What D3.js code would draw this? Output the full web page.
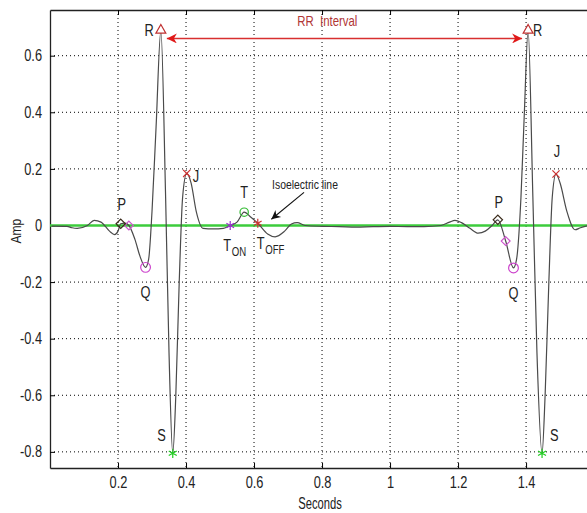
<!DOCTYPE html>
<html>
<head>
<meta charset="utf-8">
<script src="https://cdn.jsdelivr.net/npm/d3@7"></script>
<style>
  body { margin: 0; background: #fff; }
  text { font-family: "Liberation Sans", Arial, sans-serif; }
</style>
</head>
<body>
<div id="chart"></div>
<script>
// ECG trace: time (s) and amplitude
const timeSec = [0.005, 0.05, 0.065, 0.08, 0.11, 0.13, 0.15, 0.175, 0.19, 0.2, 0.208, 0.22, 0.232, 0.25, 0.265, 0.281,
  0.29, 0.3, 0.312, 0.326, 0.34, 0.35, 0.361, 0.37, 0.38, 0.39, 0.402, 0.415, 0.43, 0.45, 0.48, 0.51, 0.53,
  0.55, 0.571, 0.59, 0.611, 0.64, 0.662, 0.69, 0.71, 0.727, 0.75, 0.8, 0.85, 0.9, 0.95, 1.0, 1.05, 1.1, 1.15,
  1.175, 1.191, 1.21, 1.235, 1.259, 1.28, 1.3, 1.317, 1.34, 1.363, 1.372, 1.385, 1.395, 1.406, 1.42, 1.432,
  1.447, 1.456, 1.467, 1.477, 1.488, 1.5, 1.52, 1.544, 1.56, 1.585];
const amp = [-0.002, -0.003, -0.008, -0.01, 0.0, 0.018, 0.012, -0.02, -0.032, -0.02, 0.006, 0.008, 0.0, -0.05, -0.11, -0.148,
  -0.12, 0.05, 0.35, 0.69, 0.1, -0.45, -0.805, -0.6, -0.2, 0.1, 0.184, 0.15, 0.05, -0.01, -0.012, -0.01, 0.0,
  0.012, 0.047, 0.03, 0.008, -0.03, -0.04, -0.02, 0.005, 0.01, 0.0, -0.003, -0.004, -0.006, -0.004, -0.003, -0.004, -0.004, 0.0,
  0.012, 0.018, 0.01, -0.01, -0.027, -0.02, 0.0, 0.02, -0.055, -0.15, -0.12, 0.1, 0.4, 0.69, 0.1, -0.45,
  -0.805, -0.6, -0.2, 0.1, 0.182, 0.15, 0.05, -0.015, -0.008, 0.0];

const xTicks = [0.2, 0.4, 0.6, 0.8, 1, 1.2, 1.4];
const yTicks = [-0.8, -0.6, -0.4, -0.2, 0, 0.2, 0.4, 0.6];

// detected fiducial points
const pT = [0.208, 1.317], pA = [0.006, 0.02];
const pEndT = [0.232, 1.340], pEndA = [0.0, -0.055];
const qT = [0.281, 1.363], qA = [-0.148, -0.15];
const rT = [0.326, 1.406], rA = [0.69, 0.69];
const sT = [0.361, 1.447], sA = [-0.805, -0.805];
const jT = [0.402, 1.488], jA = [0.184, 0.182];
const tOnT = [0.53], tOnA = [0.0];
const tPeakT = [0.571], tPeakA = [0.047];
const tOffT = [0.611], tOffA = [0.008];

const width = 587, height = 513;
const mLeft = 50, mTop = 10, mBottom = 468, mRight = 590;

const x = d3.scaleLinear().domain([0, 1.588]).range([mLeft, mRight]);
const y = d3.scaleLinear().domain([-0.857, 0.7615]).range([mBottom, mTop]);
const fmt = d => d3.format("~g")(d).replace("\u2212", "-");

const svg = d3.select("#chart").append("svg")
  .attr("width", width).attr("height", height)
  .style("display", "block");

const defs = svg.append("defs");
defs.append("clipPath").attr("id", "clip")
  .append("rect").attr("x", mLeft).attr("y", mTop).attr("width", mRight - mLeft).attr("height", mBottom - mTop);

// dotted grid
svg.append("g").selectAll("line").data(xTicks).enter().append("line")
  .attr("x1", d => x(d)).attr("x2", d => x(d)).attr("y1", mTop).attr("y2", mBottom)
  .attr("stroke", "#000").attr("stroke-dasharray", "1,3");
svg.append("g").selectAll("line").data(yTicks).enter().append("line")
  .attr("x1", mLeft).attr("x2", mRight).attr("y1", d => y(d)).attr("y2", d => y(d))
  .attr("stroke", "#000").attr("stroke-dasharray", "1,3");

// axes, MATLAB style: ticks pointing inward
const xAxis = svg.append("g").attr("transform", "translate(0," + mBottom + ")")
  .call(d3.axisBottom(x).tickValues(xTicks).tickSizeInner(-5).tickSizeOuter(0).tickPadding(9).tickFormat(fmt));
const xTop = svg.append("g").attr("transform", "translate(0," + mTop + ")")
  .call(d3.axisTop(x).tickValues(xTicks).tickSizeInner(-5).tickSizeOuter(0).tickFormat(""));
const yAxis = svg.append("g").attr("transform", "translate(" + mLeft + ",0)")
  .call(d3.axisLeft(y).tickValues(yTicks).tickSizeInner(-5).tickSizeOuter(0).tickPadding(8).tickFormat(fmt));

[xAxis, xTop, yAxis].forEach(g => {
  g.select(".domain").attr("stroke", "#222").attr("stroke-width", 1.3);
  g.selectAll("text").attr("font-size", 16).attr("fill", "#222")
    .style("font-family", '"Liberation Sans", Arial, sans-serif');
});

svg.append("text").attr("x", x(0.794)).attr("y", 509).attr("text-anchor", "middle")
  .attr("font-size", 16).attr("fill", "#222").attr("data-squeeze", 0.7).text("Seconds");
svg.append("text").attr("transform", "translate(21," + y(-0.02) + ") rotate(-90)")
  .attr("text-anchor", "middle").attr("font-size", 15).attr("fill", "#222").text("Amp");

const plot = svg.append("g").attr("clip-path", "url(#clip)");

// isoelectric line
plot.append("line").attr("x1", mLeft).attr("x2", mRight).attr("y1", y(0)).attr("y2", y(0))
  .attr("stroke", "#3ccc3c").attr("stroke-width", 2.5);

// ECG trace
const trace = timeSec.map((t, i) => [t, amp[i]]);
plot.append("path").datum(trace)
  .attr("d", d3.line().x(d => x(d[0])).y(d => y(d[1])).curve(d3.curveMonotoneX))
  .attr("fill", "none").attr("stroke", "#4a4a4a").attr("stroke-width", 1.2);

function markers(ts, as, type, size, color, fill) {
  plot.append("g").selectAll("path").data(ts).enter().append("path")
    .attr("transform", (t, i) => "translate(" + x(t) + "," + y(as[i]) + ")")
    .attr("d", d3.symbol().type(type).size(size))
    .attr("fill", fill || "none").attr("stroke", color).attr("stroke-width", 1.2);
}
markers(pEndT, pEndA, d3.symbolDiamond2, 50, "#cc55cc");
markers(pT, pA, d3.symbolDiamond2, 55, "#3a2a1a");
markers(qT, qA, d3.symbolCircle, 75, "#cc44cc");
markers(rT, rA, d3.symbolTriangle2, 70, "#c03030", "#fff");
markers(sT, sA, d3.symbolAsterisk, 60, "#22cc22");
markers(jT, jA, d3.symbolTimes, 35, "#cc3030");
markers(tPeakT, tPeakA, d3.symbolCircle, 55, "#33bb33");
markers(tOnT, tOnA, d3.symbolAsterisk, 55, "#9933cc");
markers(tOffT, tOffA, d3.symbolAsterisk, 55, "#cc3333");

// point labels
const labels = svg.append("g").attr("fill", "#222");
function label(t, a, txt, dx, dy, anchor, size) {
  return labels.append("text").attr("x", x(t) + dx).attr("y", y(a) + dy)
    .attr("text-anchor", anchor).attr("font-size", size || 16).text(txt);
}
label(rT[0], rA[0], "R", -7, 6, "end");
label(rT[1], rA[1], "R", 5, 6, "start");
label(sT[0], sA[0], "S", -7, -12, "end");
label(sT[1], sA[1], "S", 8, -12, "start");
label(qT[0], qA[0], "Q", 0, 31, "middle");
label(qT[1], qA[1], "Q", 0, 31, "middle");
label(pT[0], pA[0], "P", 1, -14, "middle");
label(pT[1], pA[1], "P", 1, -12, "middle");
label(jT[0], jA[0], "J", 6, 9, "start");
label(jT[1], jA[1], "J", 1, -17, "middle");
label(tPeakT[0], tPeakA[0], "T", 0, -14, "middle");
label(tOnT[0], tOnA[0], "T", -7, 26, "start");
label(tOnT[0], tOnA[0], "ON", 1.5, 31, "start", 12);
label(tOffT[0], tOffA[0], "T", -1, 26, "start");
label(tOffT[0], tOffA[0], "OFF", 7.5, 31, "start", 12);

// isoelectric line annotation
svg.append("text").attr("x", x(0.653)).attr("y", y(0.128)).attr("font-size", 13).attr("fill", "#222")
  .text("Isoelectric line");
defs.append("marker").attr("id", "blackHead").attr("viewBox", "0 0 10 10").attr("refX", 10).attr("refY", 5)
  .attr("markerWidth", 11).attr("markerHeight", 9).attr("markerUnits", "userSpaceOnUse").attr("orient", "auto")
  .append("path").attr("d", "M0,0 L10,5 L0,10 L3,5 Z").attr("fill", "#111");
svg.append("line").attr("x1", x(0.747)).attr("y1", y(0.117)).attr("x2", x(0.651)).attr("y2", y(0.022))
  .attr("stroke", "#111").attr("stroke-width", 1.1).attr("marker-end", "url(#blackHead)");

// RR interval arrow
defs.append("marker").attr("id", "redHead").attr("viewBox", "0 0 10 10").attr("refX", 10).attr("refY", 5)
  .attr("markerWidth", 14).attr("markerHeight", 10).attr("markerUnits", "userSpaceOnUse").attr("orient", "auto-start-reverse")
  .append("path").attr("d", "M0,0 L10,5 L0,10 L3,5 Z").attr("fill", "#e01818");
svg.append("line").attr("x1", x(rT[0]) + 6).attr("y1", y(0.661)).attr("x2", x(rT[1]) - 6).attr("y2", y(0.661))
  .attr("stroke", "#d83030").attr("stroke-width", 1.5)
  .attr("marker-start", "url(#redHead)").attr("marker-end", "url(#redHead)");
svg.append("text").attr("x", x(0.727)).attr("y", y(0.704)).attr("font-size", 15).attr("fill", "#b03535")
  .attr("data-squeeze", 0.76).attr("xml:space", "preserve").text("RR  Interval");

// squeeze every label to a narrow face, like the original figure
svg.selectAll("text").each(function () {
  const w = this.getComputedTextLength();
  const k = +(this.getAttribute("data-squeeze") || 0.8);
  if (w > 0) {
    this.setAttribute("textLength", w * k);
    this.setAttribute("lengthAdjust", "spacingAndGlyphs");
  }
});
</script>
</body>
</html>
